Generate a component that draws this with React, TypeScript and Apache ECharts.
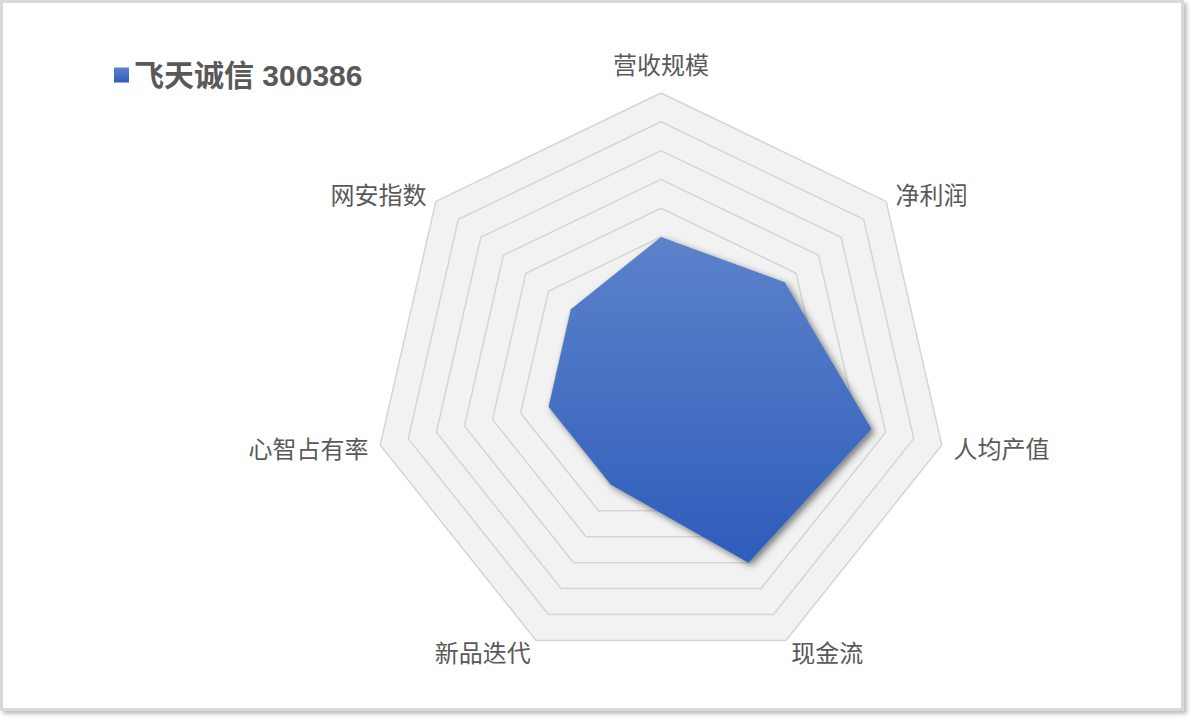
import { useEffect, useRef } from "react";
import * as echarts from "echarts";

// 指标按逆时针顺序排列（从顶部开始）
const indicators = ["营收规模", "网安指数", "心智占有率", "新品迭代", "现金流", "人均产值", "净利润"];
const scores = [5.0, 4.0, 4.0, 4.0, 7.0, 7.5, 5.5];
const seriesName = "飞天诚信 300386";
const maxScore = 10;

const App = () => {
  const chartRef = useRef(null);

  useEffect(() => {
    const chart = echarts.init(chartRef.current, null, { renderer: "svg" });

    const fill = new echarts.graphic.LinearGradient(0, 0, 0, 1, [
      { offset: 0, color: "#5d82cb" },
      { offset: 1, color: "#2d5dba" },
    ]);

    const option: any = {
      animation: false,
      legend: {
        data: [seriesName],
        left: 114,
        top: 60,
        padding: 0,
        icon: "rect",
        itemWidth: 15,
        itemHeight: 15,
        textStyle: {
          color: "#595959",
          fontSize: 30,
          fontWeight: "bold",
          fontFamily: "Liberation Sans, Noto Sans CJK SC",
        },
      },
      radar: {
        center: [661, 381],
        radius: 288,
        shape: "polygon",
        splitNumber: 10,
        nameGap: 12,
        indicator: indicators.map((name) => ({ name, min: 0, max: maxScore })),
        axisName: {
          color: "#595959",
          fontSize: 24,
          fontFamily: "Noto Sans CJK SC",
          formatter: (name) => (name === "营收规模" ? `{top|${name}}` : name),
          rich: {
            top: {
              color: "#595959",
              fontSize: 24,
              fontFamily: "Noto Sans CJK SC",
              padding: [0, 0, 6, 0],
            },
          },
        },
        axisLine: { show: false },
        axisTick: { show: false },
        axisLabel: { show: false },
        splitLine: {
          lineStyle: { color: "#d5d5d5", width: 1.5 },
        },
        splitArea: {
          show: true,
          areaStyle: { color: ["#f2f2f2"] },
        },
      },
      series: [
        {
          name: seriesName,
          type: "radar",
          symbol: "none",
          itemStyle: { color: fill },
          lineStyle: { width: 0 },
          areaStyle: {
            color: fill,
            opacity: 1,
            shadowBlur: 7,
            shadowOffsetX: 3,
            shadowOffsetY: 3,
            shadowColor: "rgba(0,0,0,0.5)",
          },
          data: [{ value: scores, name: seriesName }],
        },
      ],
    };

    chart.setOption(option);

    return () => {
      chart.dispose();
    };
  }, []);

  return (
    <div style={{ position: "fixed", left: 0, top: 0, width: 1191, height: 720, background: "#fff" }}>
      <div
        style={{
          position: "absolute",
          left: 0,
          top: 0,
          width: 1184,
          height: 711,
          boxSizing: "border-box",
          border: "3px solid #d9d9d9",
          boxShadow: "3px 3px 4px rgba(0,0,0,0.25)",
          background: "#fff",
        }}
      />
      <div ref={chartRef} style={{ position: "absolute", left: 0, top: 0, width: 1191, height: 720 }} />
    </div>
  );
};

export default App;
